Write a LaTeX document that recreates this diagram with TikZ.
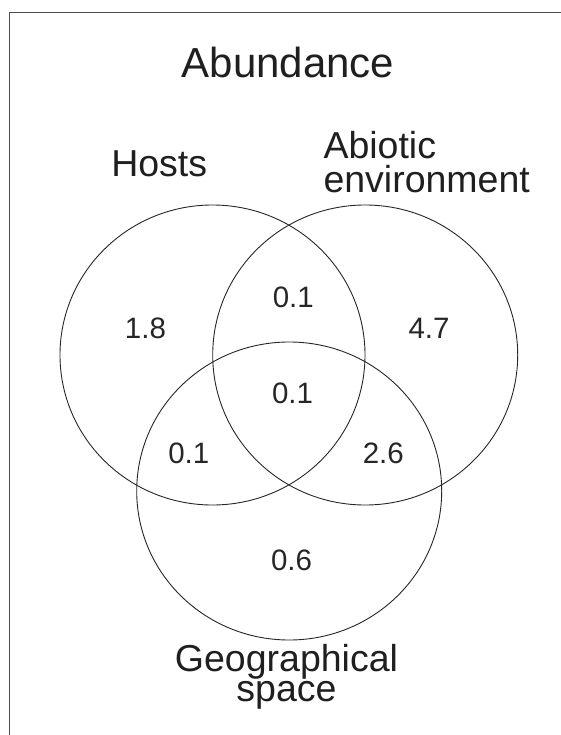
\documentclass[tikz,border=0pt]{standalone}
\usepackage{fontspec}
\setmainfont{Liberation Sans}
\usetikzlibrary{shapes.geometric}
\begin{document}
\begin{tikzpicture}[x=1pt,y=-1pt,
  setring/.style={ellipse, draw=black!85, line width=0.9pt, inner sep=0pt,
    minimum width=305pt},
  heading/.style={font=\fontsize{42}{50}\selectfont, text=black!88, inner sep=0pt, anchor=base},
  setname/.style={text=black!88, inner sep=0pt},
  value/.style={font=\fontsize{29.5}{32}\selectfont, text=black!85, inner sep=0pt, anchor=base}]
\useasboundingbox (0,0) rectangle (561,735);

% frame (left and top edges)
\draw[black!70, line width=1.2pt] (9.3,735) -- (9.3,12.7) -- (561,12.7);

% the three sets
\node[setring, minimum height=300pt] (hosts)   at (212.5,355) {};
\node[setring, minimum height=300pt] (abiotic) at (365.2,355) {};
\node[setring, minimum height=298pt] (geo)     at (289.2,491) {};

% title and set names (multi-line names are anchored at their last baseline)
\node[heading] (title) at (288,77.3) {Abundance};
\node[setname, font=\fontsize{37.5}{40}\selectfont, anchor=base] (hostsname) at (159.2,176.7) {Hosts};
\node[setname, font=\fontsize{37.5}{34.4}\selectfont, align=left, anchor=base west]
  (abioticname) at (323.3,192.7) {Abiotic\\environment};
\node[setname, font=\fontsize{37.5}{30}\selectfont, align=center, anchor=base]
  (geoname) at (286.5,701.7) {Geographical\\space};

% region values
\node[value] (vH)   at (145.5,338) {1.8};
\node[value] (vA)   at (429,338)   {4.7};
\node[value] (vG)   at (291.5,570.5) {0.6};
\node[value] (vHA)  at (293.3,307.5) {0.1};
\node[value] (vHG)  at (188.8,463.3) {0.1};
\node[value] (vAG)  at (383.3,463.3) {2.6};
\node[value] (vHAG) at (292.5,403.3) {0.1};
\end{tikzpicture}
\end{document}
